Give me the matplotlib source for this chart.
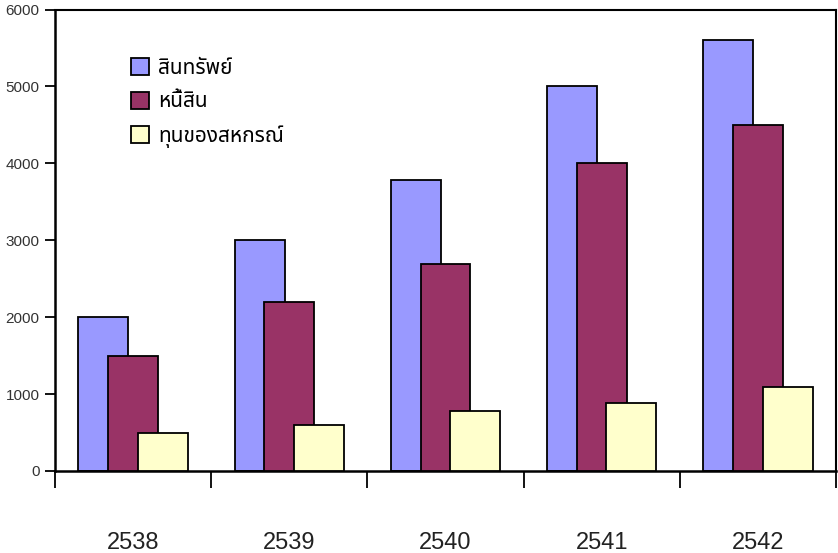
import matplotlib
matplotlib.use("Agg")
import matplotlib.pyplot as plt
import numpy as np

years = ["2538", "2539", "2540", "2541", "2542"]
series_names = ["สินทรัพย์", "หนี้สิน", "ทุนของสหกรณ์"]
assets = [2000, 3000, 3780, 5000, 5600]
liabilities = [1500, 2200, 2690, 4000, 4500]
equity = [500, 600, 780, 880, 1090]
colors = ["#9999FF", "#993366", "#FFFFCC"]

plt.rcParams["font.family"] = ["Liberation Sans", "DejaVu Sans"]

fig = plt.figure(figsize=(8.38, 5.53), dpi=100)
ax = fig.add_axes([55 / 838, 82 / 553, 781 / 838, 461.5 / 553])

x = np.arange(len(years))
width = 0.32
step = 0.19
for i, (vals, name, col) in enumerate(zip([assets, liabilities, equity],
                                          series_names, colors)):
    ax.bar(x + (i - 1) * step, vals, width, color=col, edgecolor="black",
           linewidth=1.3, label=name, zorder=2 + i)

ax.set_xlim(-0.5, len(years) - 0.5)
ax.set_ylim(0, 6000)
ax.set_yticks(np.arange(0, 6001, 1000))
ax.tick_params(axis="y", length=7, width=1.3, labelsize=11,
               labelcolor="#333333", pad=4)

# category labels sit well below the axis; tick marks go between categories
ax.set_xticks(x)
ax.set_xticklabels(years, fontsize=17, color="#222222")
ax.tick_params(axis="x", which="major", length=0, pad=44)
ax.set_xticks(np.arange(-0.5, len(years), 1.0), minor=True)
ax.tick_params(axis="x", which="minor", length=12, width=1.3, direction="out")

for side in ["left", "bottom"]:
    ax.spines[side].set_linewidth(1.8)
for side in ["top", "right"]:
    ax.spines[side].set_linewidth(1.5)

leg = ax.legend(loc="upper left", bbox_to_anchor=(0.087, 0.913), frameon=False,
                handlelength=0.85, handleheight=0.85, handletextpad=0.45,
                labelspacing=0.6, borderaxespad=0,
                prop={"family": ["Noto Sans Thai", "DejaVu Sans"], "size": 15})
for h in leg.legend_handles:
    h.set_linewidth(1.3)

fig.savefig("out.png", dpi=100)
